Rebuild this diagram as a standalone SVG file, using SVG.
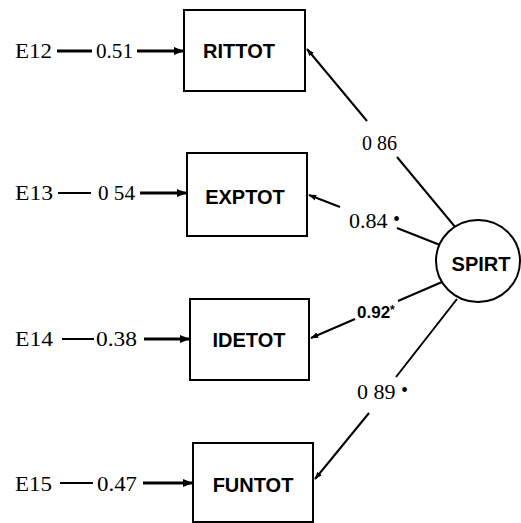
<svg xmlns="http://www.w3.org/2000/svg" width="521" height="523" viewBox="0 0 521 523">
<defs>
<style>
.box{fill:#fff;stroke:#000;stroke-width:2}
.lbl{font-family:"Liberation Sans",Arial,sans-serif;font-weight:bold;font-size:20px;text-anchor:middle;fill:#000}
.ser{font-family:"Liberation Serif","Times New Roman",serif;font-size:22px;fill:#000}
.ln{stroke:#000;stroke-width:2;fill:none}
.th{stroke:#000;stroke-width:3;fill:none}
</style>
<marker id="ah" viewBox="0 0 10 10" refX="9" refY="5" markerWidth="3.5" markerHeight="3.5" orient="auto" markerUnits="strokeWidth">
<path d="M0,1 L10,5 L0,9 z" fill="#000"/>
</marker>
<marker id="ah2" viewBox="0 0 10 10" refX="9" refY="5" markerWidth="4" markerHeight="4" orient="auto" markerUnits="strokeWidth">
<path d="M0,1.5 L10,5 L0,8.5 z" fill="#000"/>
</marker>
</defs>
<g id="connectors">
<path class="th" d="M57,51 L92,51"/>
<path class="th" d="M137,51 L183,51" marker-end="url(#ah)"/>
<path class="ln" d="M58,193 L91,193"/>
<path class="th" d="M140,193 L186,193" marker-end="url(#ah)"/>
<path class="ln" d="M62,339 L94,339"/>
<path class="th" d="M144,339 L189,339" marker-end="url(#ah)"/>
<path class="ln" d="M60,483 L93,483"/>
<path class="th" d="M143,483 L192,483" marker-end="url(#ah)"/>
<path class="ln" d="M456,228 L397,157 M367,121 L307,49" marker-end="url(#ah2)"/>
<path class="ln" d="M440,245 L397,228 M340,207 L309,195" marker-end="url(#ah2)"/>
<path class="ln" d="M442,282 L398,301 M355,319 L311,338" marker-end="url(#ah2)"/>
<path class="ln" d="M457,299 L396,377 M369,413 L315,479" marker-end="url(#ah2)"/>
</g>
<g id="E12"><text class="ser" x="15" y="58" textLength="37" lengthAdjust="spacingAndGlyphs">E12</text></g>
<g id="E13"><text class="ser" x="15" y="200" textLength="38" lengthAdjust="spacingAndGlyphs">E13</text></g>
<g id="E14"><text class="ser" x="15" y="346" textLength="38" lengthAdjust="spacingAndGlyphs">E14</text></g>
<g id="E15"><text class="ser" x="15" y="491" textLength="37" lengthAdjust="spacingAndGlyphs">E15</text></g>
<g id="w1"><text class="ser" x="96" y="58" textLength="37" lengthAdjust="spacingAndGlyphs">0.51</text></g>
<g id="w2"><text class="ser" x="98" y="200" textLength="37" lengthAdjust="spacingAndGlyphs">0 54</text></g>
<g id="w3"><text class="ser" x="96" y="346" textLength="41" lengthAdjust="spacingAndGlyphs">0.38</text></g>
<g id="w4"><text class="ser" x="97" y="491" textLength="40" lengthAdjust="spacingAndGlyphs">0.47</text></g>
<g id="RITTOT"><rect class="box" x="184" y="10" width="121" height="81"/><text class="lbl" x="239" y="58">RITTOT</text></g>
<g id="EXPTOT"><rect class="box" x="187" y="153" width="120" height="83"/><text class="lbl" x="245" y="204">EXPTOT</text></g>
<g id="IDETOT"><rect class="box" x="190" y="299" width="119" height="81"/><text class="lbl" x="249" y="347">IDETOT</text></g>
<g id="FUNTOT"><rect class="box" x="193" y="443" width="120" height="79"/><text class="lbl" x="253" y="492">FUNTOT</text></g>
<g id="SPIRT"><ellipse cx="478" cy="261" rx="42" ry="41" fill="#fff" stroke="#000" stroke-width="2"/><text class="lbl" x="481" y="271">SPIRT</text></g>
<g id="labels">
<text class="ser" x="362" y="150" textLength="35" lengthAdjust="spacingAndGlyphs">0 86</text>
<text class="ser" x="349" y="228">0.84 <tspan font-size="20" dy="-2">•</tspan></text>
<text x="357" y="318" font-family="Liberation Sans, Arial, sans-serif" font-weight="bold" font-size="17" fill="#000">0.92<tspan font-size="12" dy="-4">*</tspan></text>
<text class="ser" x="357" y="399">0 89 <tspan font-size="20" dy="-2">•</tspan></text>
</g>
</svg>
